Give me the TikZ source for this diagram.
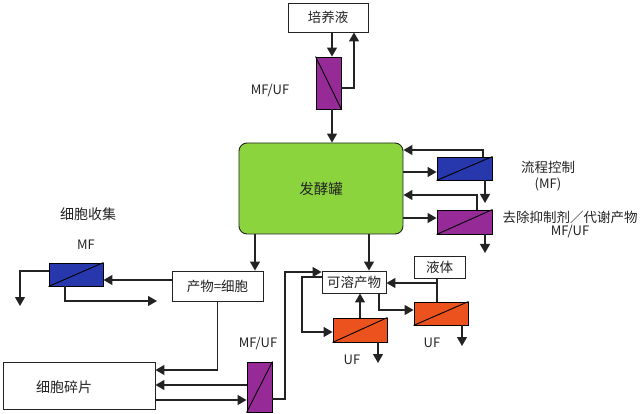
\documentclass[tikz,border=0pt]{standalone}
\usepackage{fontspec}
\setmainfont{Noto Sans CJK SC}
\usetikzlibrary{arrows.meta}
\definecolor{ferm}{RGB}{140,212,62}
\definecolor{mblue}{RGB}{38,56,172}
\definecolor{mpurp}{RGB}{150,42,150}
\definecolor{morange}{RGB}{236,82,30}
\definecolor{ink}{RGB}{35,35,35}
\tikzset{
  box/.style={draw=ink, line width=0.9pt, fill=white, inner sep=0pt, font=\fontsize{13.5}{13.5}\selectfont, text=ink},
  memb/.style={draw=black, line width=0.9pt, inner sep=0pt},
  flow/.style={draw=ink, line width=1.3pt, -{Triangle[length=9pt,width=10pt]}},
  plain/.style={draw=ink, line width=1.3pt},
  lbl/.style={text=ink, font=\fontsize{13.5}{13.5}\selectfont, inner sep=0pt, text height=11.5pt, text depth=1.5pt},
  lat/.style={text=ink, font=\fontsize{13}{13}\selectfont, inner sep=0pt, text height=9.5pt, text depth=0pt},
}
\begin{document}
\begin{tikzpicture}[x=1pt,y=-1pt]
\useasboundingbox (0,0) rectangle (640,414);
% boxes
\node[box, minimum width=80pt, minimum height=29pt] (med) at (328,17.5) {培养液};
\node[draw=ink, line width=0.9pt, fill=ferm, rounded corners=8pt, minimum width=164pt, minimum height=91pt, text=ink, font=\fontsize{14.5}{14.5}\selectfont] (F) at (321,188.5) {发酵罐};
\node[box, minimum width=91pt, minimum height=30pt] (C) at (217.5,286) {产物=细胞};
\node[box, minimum width=64pt, minimum height=22pt] (S) at (354,282) {可溶产物};
\node[box, minimum width=51pt, minimum height=22pt] (L) at (439.5,267) {液体};
\node[box, minimum width=152pt, minimum height=47pt] (D) at (79,385.5) {};
\node[lbl, font=\fontsize{14}{14}\selectfont] (Dt) at (64,387) {细胞碎片};
% membranes
\node[memb, fill=mpurp, minimum width=25pt, minimum height=52pt] (MT) at (328.5,83) {};
\draw[line width=0.9pt] (MT.north west) -- (MT.south east);
\node[memb, fill=mblue, minimum width=55pt, minimum height=23pt] (B1) at (464.5,168.5) {};
\draw[line width=0.9pt] (B1.south west) -- (B1.north east);
\node[memb, fill=mpurp, minimum width=55pt, minimum height=24pt] (P1) at (464.5,222) {};
\draw[line width=0.9pt] (P1.south west) -- (P1.north east);
\node[memb, fill=mblue, minimum width=54pt, minimum height=23pt] (B2) at (76,274.5) {};
\draw[line width=0.9pt] (B2.south west) -- (B2.north east);
\node[memb, fill=morange, minimum width=54pt, minimum height=23pt] (O2) at (441,313.5) {};
\draw[line width=0.9pt] (O2.south west) -- (O2.north east);
\node[memb, fill=morange, minimum width=54pt, minimum height=24pt] (O1) at (360,330) {};
\draw[line width=0.9pt] (O1.south west) -- (O1.north east);
\node[memb, fill=mpurp, minimum width=25pt, minimum height=50pt] (P2) at (259.5,387) {};
\draw[line width=0.9pt] (P2.south west) -- (P2.north east);
% labels
\node[lat] (l1) at (270,90) {MF/UF};
\node[lbl] (l2) at (548,168) {流程控制};
\node[lat] (l3) at (548,184) {(MF)};
\node[lbl] (l4) at (570,217.5) {去除抑制剂／代谢产物};
\node[lat] (l5) at (570,230.5) {MF/UF};
\node[lbl, font=\fontsize{14}{14}\selectfont] (l6) at (88,215) {细胞收集};
\node[lat] (l7) at (86,245) {MF};
\node[lat] (l8) at (432,343) {UF};
\node[lat] (l9) at (352,360) {UF};
\node[lat] (l10) at (258,343) {MF/UF};
% free ends
\coordinate (e1) at (485,203);
\coordinate (e2) at (485,253);
\coordinate (e3) at (20,306);
\coordinate (e4) at (157,301);
\coordinate (e5) at (462,346);
\coordinate (e6) at (378,363);
% connectors
\draw[flow] (med.south -| 332,0) -- (MT.north -| 332,0);
\draw[flow] (MT.east |- 0,88) -| (med.south -| 354,0);
\draw[flow] (MT.south -| 332,0) -- (F.north -| 332,0);
\draw[flow] (F.east |- 0,172) -- (B1.west |- 0,172);
\draw[flow] (B1.north -| 483,0) |- (F.east |- 0,150);
\draw[flow] (B1.south -| 485,0) -- (e1);
\draw[flow] (F.east |- 0,218) -- (P1.west |- 0,218);
\draw[flow] (P1.north -| 477,0) |- (F.east |- 0,195);
\draw[flow] (P1.south -| 485,0) -- (e2);
\draw[flow] (F.south -| 255,0) -- (C.north -| 255,0);
\draw[flow] (F.south -| 369,0) -- (S.north -| 369,0);
\draw[flow] (C.west |- 0,280) -- (B2.east |- 0,280);
\draw[flow] (B2.west |- 0,271) -| (e3);
\draw[flow] (B2.south -| 65,0) |- (e4);
\draw[flow] (C.south) |- (D.east |- 0,370);
\draw[flow] (P2.west |- 0,385) -- (D.east |- 0,385);
\draw[flow] (D.east |- 0,400) -- (P2.west |- 0,400);
\draw[flow] (P2.east |- 0,399) -- (285,399) -- (285,272) -- (S.west |- 0,272);
\draw[plain] (L.south -| 437,0) -- (O2.north -| 437,0);
\draw[flow] (437,283) -- (S.east |- 0,283);
\draw[flow] (S.south -| 379,0) |- (O2.west |- 0,310);
\draw[flow] (O2.south -| 462,0) -- (e5);
\draw[flow] (S.west |- 0,277) -| (302,332) -- (O1.west |- 0,332);
\draw[flow] (O1.north) -- (S.south -| O1.north);
\draw[flow] (O1.south -| 378,0) -- (e6);
\end{tikzpicture}
\end{document}
